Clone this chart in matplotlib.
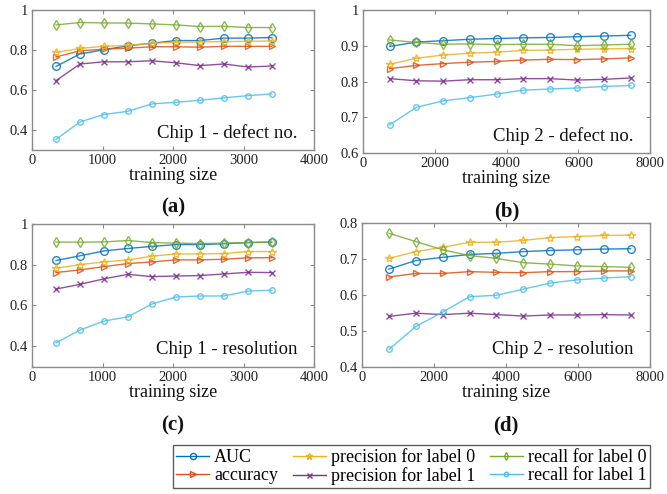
import matplotlib
matplotlib.use("Agg")
import matplotlib.pyplot as plt
from matplotlib.lines import Line2D

plt.rcParams['font.family'] = ['Liberation Serif', 'DejaVu Serif']

# ---------------- data ----------------
x_chip1 = [340, 680, 1020, 1360, 1700, 2040, 2380, 2720, 3060, 3400]
x_chip2 = [745, 1490, 2235, 2980, 3725, 4470, 5215, 5960, 6705, 7450]

series_names = ["AUC", "accuracy", "precision for label 0",
                "precision for label 1", "recall for label 0", "recall for label 1"]

# (a) Chip 1 - defect no.
a_auc = [0.718, 0.780, 0.801, 0.821, 0.834, 0.847, 0.847, 0.859, 0.859, 0.862]
a_acc = [0.765, 0.796, 0.804, 0.809, 0.816, 0.816, 0.814, 0.818, 0.818, 0.818]
a_prec0 = [0.788, 0.808, 0.818, 0.823, 0.833, 0.838, 0.840, 0.842, 0.843, 0.845]
a_prec1 = [0.647, 0.730, 0.741, 0.741, 0.746, 0.736, 0.722, 0.730, 0.715, 0.720]
a_rec0 = [0.925, 0.937, 0.935, 0.934, 0.930, 0.925, 0.917, 0.918, 0.912, 0.912]
a_rec1 = [0.354, 0.441, 0.478, 0.494, 0.531, 0.539, 0.549, 0.561, 0.572, 0.581]

# (b) Chip 2 - defect no.
b_auc = [0.898, 0.910, 0.914, 0.918, 0.920, 0.922, 0.923, 0.925, 0.927, 0.929]
b_acc = [0.836, 0.845, 0.850, 0.854, 0.856, 0.860, 0.862, 0.861, 0.863, 0.866]
b_prec0 = [0.848, 0.865, 0.874, 0.879, 0.882, 0.887, 0.888, 0.890, 0.891, 0.892]
b_prec1 = [0.808, 0.802, 0.801, 0.805, 0.805, 0.808, 0.808, 0.804, 0.806, 0.810]
b_rec0 = [0.916, 0.909, 0.904, 0.905, 0.903, 0.904, 0.904, 0.900, 0.902, 0.904]
b_rec1 = [0.679, 0.728, 0.746, 0.755, 0.765, 0.776, 0.779, 0.782, 0.786, 0.789]

# (c) Chip 1 - resolution
c_auc = [0.820, 0.843, 0.867, 0.879, 0.889, 0.898, 0.898, 0.902, 0.908, 0.910]
c_acc = [0.761, 0.774, 0.790, 0.805, 0.813, 0.823, 0.823, 0.826, 0.833, 0.834]
c_prec0 = [0.782, 0.800, 0.813, 0.823, 0.841, 0.852, 0.852, 0.854, 0.864, 0.864]
c_prec1 = [0.680, 0.703, 0.730, 0.752, 0.741, 0.744, 0.746, 0.754, 0.762, 0.761]
c_rec0 = [0.910, 0.910, 0.911, 0.918, 0.908, 0.905, 0.903, 0.905, 0.908, 0.910]
c_rec1 = [0.416, 0.479, 0.523, 0.544, 0.607, 0.641, 0.646, 0.646, 0.670, 0.674]

# (d) Chip 2 - resolution
d_auc = [0.672, 0.696, 0.705, 0.713, 0.716, 0.721, 0.724, 0.726, 0.728, 0.729]
d_acc = [0.650, 0.660, 0.660, 0.665, 0.663, 0.662, 0.665, 0.665, 0.667, 0.667]
d_prec0 = [0.702, 0.721, 0.733, 0.747, 0.747, 0.752, 0.760, 0.763, 0.766, 0.767]
d_prec1 = [0.540, 0.549, 0.545, 0.549, 0.545, 0.541, 0.544, 0.544, 0.545, 0.544]
d_rec0 = [0.772, 0.749, 0.726, 0.710, 0.702, 0.690, 0.686, 0.681, 0.679, 0.677]
d_rec1 = [0.448, 0.512, 0.552, 0.595, 0.599, 0.616, 0.633, 0.642, 0.647, 0.651]

panel_titles = ["Chip 1 - defect no.", "Chip 2 - defect no.",
                "Chip 1 - resolution", "Chip 2 - resolution"]
panel_tags = ["(a)", "(b)", "(c)", "(d)"]
xticks_chip1 = [0, 1000, 2000, 3000, 4000]
xticks_chip2 = [0, 2000, 4000, 6000, 8000]

# ---------------- styles ----------------
colors = ['#0072BD', '#D95319', '#EDB120', '#7E2F8E', '#77AC30', '#4DBEEE']
markers = ['o', '>', '*', 'x', 'd', 'o']
msizes = [5.5, 5, 6, 4.5, 5, 4]

fig = plt.figure(figsize=(6.67, 4.94), dpi=100)

positions = [
    [0.048, 0.696, 0.423, 0.284],
    [0.544, 0.690, 0.431, 0.290],
    [0.048, 0.258, 0.423, 0.289],
    [0.543, 0.258, 0.432, 0.290],
]
panels = [
    (x_chip1, [a_auc, a_acc, a_prec0, a_prec1, a_rec0, a_rec1], (0.3, 1.0), [0.4, 0.6, 0.8, 1.0], ['0.4', '0.6', '0.8', '1'], (0, 4000), xticks_chip1),
    (x_chip2, [b_auc, b_acc, b_prec0, b_prec1, b_rec0, b_rec1], (0.6, 1.0), [0.6, 0.7, 0.8, 0.9, 1.0], ['0.6', '0.7', '0.8', '0.9', '1'], (0, 8000), xticks_chip2),
    (x_chip1, [c_auc, c_acc, c_prec0, c_prec1, c_rec0, c_rec1], (0.3, 1.0), [0.4, 0.6, 0.8, 1.0], ['0.4', '0.6', '0.8', '1'], (0, 4000), xticks_chip1),
    (x_chip2, [d_auc, d_acc, d_prec0, d_prec1, d_rec0, d_rec1], (0.4, 0.8), [0.4, 0.5, 0.6, 0.7, 0.8], ['0.4', '0.5', '0.6', '0.7', '0.8'], (0, 8000), xticks_chip2),
]

frame_color = '#8a8a8a'
for i, (pos, (xs, ys, ylim, yt, ytl, xlim, xt)) in enumerate(zip(positions, panels)):
    ax = fig.add_axes(pos)
    for j, y in enumerate(ys):
        ax.plot(xs, y, color=colors[j], marker=markers[j], markersize=msizes[j],
                markerfacecolor='none', markeredgewidth=1.0, linewidth=1.0,
                alpha=0.85)
    ax.set_xlim(*xlim)
    ax.set_ylim(*ylim)
    ax.set_xticks(xt)
    ax.set_xticklabels([str(v) for v in xt])
    ax.set_yticks(yt)
    ax.set_yticklabels(ytl)
    ax.tick_params(direction='in', length=3, width=0.8, top=True, right=True,
                   labelsize=10.5, colors=frame_color, labelcolor='#222222', pad=3)
    for sp in ax.spines.values():
        sp.set_color(frame_color)
        sp.set_linewidth(1.0)
    ax.set_xlabel("training size", fontsize=13, labelpad=0, color='#111111')
    ax.text(0.94, 0.06, panel_titles[i], transform=ax.transAxes, ha='right',
            va='bottom', fontsize=13.5, color='#111111')
    ax.text(0.5, -0.41, panel_tags[i], transform=ax.transAxes, ha='center',
            va='center', fontsize=15, fontweight='bold', color='#111111')

handles = [Line2D([], [], color=colors[j], marker=markers[j], markersize=msizes[j] * 0.8,
                  markerfacecolor='none', markeredgewidth=1.0, linewidth=1.0)
           for j in range(6)]
leg = fig.legend(handles, series_names, ncol=3, loc='upper left',
                 bbox_to_anchor=(0.259, 0.100, 0.716, 0.0), mode='expand',
                 fontsize=13, frameon=True, fancybox=False, edgecolor='#333333',
                 handlelength=1.8, handletextpad=0.3, borderpad=0.2,
                 labelspacing=0.05, columnspacing=0.8, borderaxespad=0)
leg.get_frame().set_linewidth(1.0)

fig.savefig("out.png", dpi=100)
